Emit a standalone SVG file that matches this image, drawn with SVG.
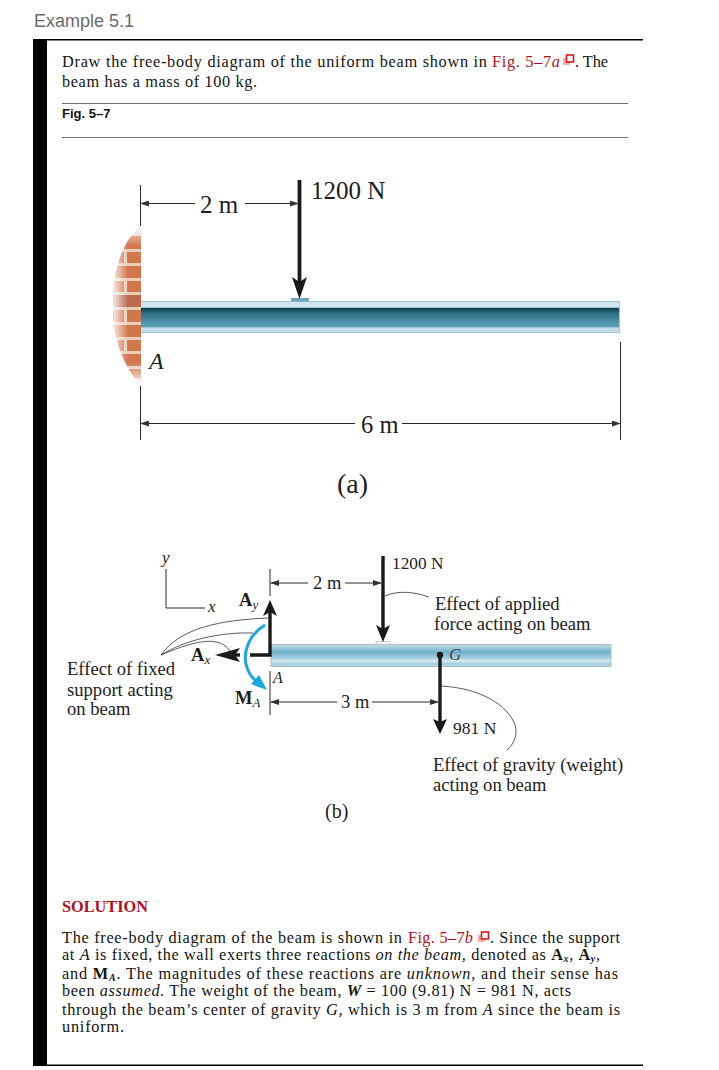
<svg xmlns="http://www.w3.org/2000/svg" width="719" height="1070" viewBox="0 0 719 1070">
<style>
text{font-family:"Liberation Serif","Times New Roman",serif;fill:#1d1d1d}
.b{font-size:16.3px;fill:#141414}
.r{fill:#b0101c}
.i{font-style:italic}
.l{stroke:#2b2b2b;stroke-width:1;fill:none}
.lead{stroke:#333;stroke-width:.8;fill:none}
.rule{stroke:#6e6e6e;stroke-width:1}
.f{stroke:#1a1a1a;stroke-width:3.4;fill:none}
.h{fill:#1a1a1a}
.t{font-size:18.6px}
</style>
<defs>
<linearGradient id="webA" x1="0" y1="0" x2="0" y2="1">
<stop offset="0" stop-color="#0f3c48"/><stop offset=".3" stop-color="#2f7286"/><stop offset=".7" stop-color="#4b90a8"/><stop offset="1" stop-color="#5f9fb8"/>
</linearGradient>
<linearGradient id="beamB" x1="0" y1="0" x2="0" y2="1">
<stop offset="0" stop-color="#c5dde8"/><stop offset=".12" stop-color="#a8d0e0"/><stop offset=".35" stop-color="#6fb0c8"/><stop offset=".62" stop-color="#a6d2e2"/><stop offset=".75" stop-color="#d6eaf2"/><stop offset=".88" stop-color="#a3cfe0"/><stop offset="1" stop-color="#bcd8e4"/>
</linearGradient>
<linearGradient id="fadeL" x1="0" y1="0" x2="1" y2="0">
<stop offset="0" stop-color="#fff"/><stop offset=".3" stop-color="#fff" stop-opacity=".8"/><stop offset="1" stop-color="#fff" stop-opacity="0"/>
</linearGradient>
<linearGradient id="fadeT" x1="0" y1="0" x2="0" y2="1">
<stop offset="0" stop-color="#fff"/><stop offset="1" stop-color="#fff" stop-opacity="0"/>
</linearGradient>
<linearGradient id="fadeB" x1="0" y1="1" x2="0" y2="0">
<stop offset="0" stop-color="#fff"/><stop offset="1" stop-color="#fff" stop-opacity="0"/>
</linearGradient>
<clipPath id="wc"><path d="M141 226C122 240 113 272 113 305C113 340 124 368 141 385Z"/></clipPath>
<filter id="bsoft" x="-5%" y="-5%" width="110%" height="110%"><feGaussianBlur stdDeviation=".5"/></filter>
<marker id="da" markerWidth="9" markerHeight="6" refX="8" refY="3" orient="auto"><path d="M0 0L9 3L0 6Z" fill="#333"/></marker>
<marker id="ds" markerWidth="9" markerHeight="6" refX="1" refY="3" orient="auto"><path d="M9 0L0 3L9 6Z" fill="#333"/></marker>
<g id="linkicon"><rect x="0" y="3" width="7" height="7" fill="#efb0a8"/><rect x="3.5" y="0" width="7" height="7" fill="#fff" stroke="#d81818" stroke-width="1.6"/></g>
</defs>
<rect width="719" height="1070" fill="#fff"/>

<g id="page">
<text x="34" y="27" style="font-family:'Liberation Sans',sans-serif;font-size:18px;fill:#6a6a6a" textLength="100">Example 5.1</text>
<rect x="33" y="39" width="14" height="1027" fill="#000"/>
<rect x="33" y="39" width="610" height="1.5" fill="#000"/>
<rect x="33" y="1064.500" width="610" height="1.500" fill="#000"/>
<line class="rule" x1="62" y1="103.500" x2="628" y2="103.500"/>
<line class="rule" x1="62" y1="137.500" x2="628" y2="137.500"/>
<text x="62" y="118" style="font-family:'Liberation Sans',sans-serif;font-size:13px;font-weight:700;fill:#111">Fig. 5–7</text>
</g>

<g id="intro">
<text class="b" x="62" y="66.500" textLength="425">Draw the free-body diagram of the uniform beam shown in</text>
<text class="b r" x="492" y="66.500" textLength="68">Fig. 5–7<tspan class="i">a</tspan></text>
<use href="#linkicon" x="563" y="55"/>
<text class="b" x="575" y="66.500" textLength="33">. The</text>
<text class="b" x="62" y="86.500" textLength="195">beam has a mass of 100 kg.</text>
</g>

<g id="figure-a">
<g id="wall" clip-path="url(#wc)">
<rect x="108" y="222" width="33" height="166" fill="#e6cdb8"/>
<g fill="#d2764c" filter="url(#bsoft)">
<rect x="108" y="236" width="33" height="13"/><rect x="127" y="252" width="14" height="11"/><rect x="108" y="252" width="16" height="11"/>
<rect x="108" y="266" width="33" height="12"/><rect x="127" y="281" width="14" height="11"/><rect x="108" y="281" width="16" height="11"/>
<rect x="108" y="295" width="33" height="12" fill="#bb6b50"/><rect x="127" y="310" width="14" height="12"/><rect x="108" y="310" width="16" height="12"/>
<rect x="108" y="325" width="33" height="12"/><rect x="127" y="340" width="14" height="11"/><rect x="108" y="340" width="16" height="11"/>
<rect x="108" y="354" width="33" height="12"/><rect x="127" y="369" width="14" height="9"/>
</g>
<rect x="108" y="222" width="20" height="166" fill="url(#fadeL)"/>
<rect x="108" y="222" width="33" height="24" fill="url(#fadeT)"/>
<rect x="108" y="362" width="33" height="26" fill="url(#fadeB)"/>
</g>
<g id="beam-a">
<rect x="141" y="301" width="479" height="32" fill="#9fc4d4"/>
<rect x="141" y="302" width="478" height="5" fill="#cfe6f1"/>
<rect x="141" y="308" width="478" height="19" fill="url(#webA)"/>
<rect x="141" y="328" width="478" height="4" fill="#c3dfec"/>
<rect x="291" y="298" width="18" height="3.500" fill="#6fa3b8"/>
</g>
<g id="force-a">
<line class="f" x1="299.500" y1="180" x2="299.500" y2="285" style="stroke-width:3.8"/>
<path class="h" d="M292 277L299.500 282L307 277L299.500 299Z"/>
<text x="311" y="199" font-size="25">1200 N</text>
</g>
<text class="i" x="149" y="369" font-size="24">A</text>
<g id="dims-a">
<line class="l" x1="140.500" y1="185" x2="140.500" y2="226"/>
<line class="l" x1="140.500" y1="386" x2="140.500" y2="440"/>
<line class="l" x1="620.500" y1="342" x2="620.500" y2="440"/>
<path class="l" d="M141 203.500H195" marker-start="url(#ds)"/>
<path class="l" d="M245 203.500H298" marker-end="url(#da)"/>
<path class="l" d="M141 423.500H355" marker-start="url(#ds)"/>
<path class="l" d="M402 423.500H620" marker-end="url(#da)"/>
<text x="200" y="213" font-size="25">2 m</text>
<text x="361" y="433" font-size="24.500">6 m</text>
</g>
<text x="337" y="493" font-size="28">(a)</text>
</g>

<g id="figure-b">
<g id="beam-b">
<rect x="271" y="644.500" width="340" height="22" fill="url(#beamB)" stroke="#a9bfca" stroke-width="1"/>
<rect x="376" y="641.500" width="14" height="3" fill="#eef3f5" stroke="#bbb" stroke-width=".7"/>
</g>
<g id="axes">
<path class="l" d="M166 569V608H205" stroke="#444"/>
<text class="i" x="162" y="563" font-size="17">y</text>
<text class="i" x="208" y="612" font-size="17">x</text>
</g>
<g id="force-1200">
<line class="f" x1="383" y1="556" x2="383" y2="630"/>
<path class="h" d="M376 625L383 629L390 625L383 642Z"/>
<text x="392" y="569" font-size="17.300">1200 N</text>
</g>
<g id="reaction-Ay">
<path class="f" d="M250 655H270V612"/>
<path class="h" d="M270 600L277 616L270 612L263 616Z"/>
<text x="239" y="606" font-size="18.500" font-weight="700">A<tspan class="i" font-size="13" font-weight="400" dy="3">y</tspan></text>
</g>
<g id="reaction-Ax">
<path class="f" d="M240 655H228"/>
<path class="h" d="M215 655L240 648L235 655L240 662Z"/>
<text x="191" y="661" font-size="18.500" font-weight="700">A<tspan class="i" font-size="13" font-weight="400" dy="3">x</tspan></text>
</g>
<g id="moment">
<path d="M265 625C250 634 243 650 246 664C248 673 252 678 257 682" fill="none" stroke="#1aa7e0" stroke-width="3"/>
<path d="M267 690L251 684L259 675Z" fill="#1aa7e0"/>
<text x="235" y="704" font-size="18.500" font-weight="700">M<tspan class="i" font-size="13" font-weight="400" dy="3">A</tspan></text>
</g>
<g id="gravity">
<circle cx="440" cy="655" r="3.200" fill="#1a1a1a"/>
<text class="i" x="449" y="660" font-size="17" style="fill:#444">G</text>
<line class="f" x1="440" y1="655" x2="440" y2="722"/>
<path class="h" d="M433 719L440 722L447 719L440 734Z"/>
<text x="453" y="734" font-size="17.500">981 N</text>
</g>
<g id="dims-b">
<line class="l" x1="270" y1="569" x2="270" y2="596"/>
<line class="l" x1="270" y1="671" x2="270" y2="715"/>
<path class="l" d="M271 583H308" marker-start="url(#ds)"/>
<path class="l" d="M345 583H381" marker-end="url(#da)"/>
<path class="l" d="M271 702H337" marker-start="url(#ds)"/>
<path class="l" d="M372 702H438" marker-end="url(#da)"/>
<text x="313" y="589" font-size="18.500">2 m</text>
<text x="341" y="708" font-size="18.500">3 m</text>
<text class="i" x="273" y="683" font-size="16">A</text>
</g>
<g id="leaders">
<path class="lead" d="M161 655C180 628 220 620 268 618"/>
<path class="lead" d="M161 655C185 640 220 632 253 633"/>
<path class="lead" d="M161 655C185 645 222 630 232 655"/>
<path class="lead" d="M385 596C398 590 415 592 429 597"/>
<path class="lead" d="M441 686C480 688 508 705 515 725C518 735 514 744 507 750"/>
</g>
<g id="notes">
<text class="t" x="67" y="675">Effect of fixed</text>
<text class="t" x="67" y="696">support acting</text>
<text class="t" x="67" y="715">on beam</text>
<text class="t" x="435" y="610">Effect of applied</text>
<text class="t" x="434" y="630">force acting on beam</text>
<text class="t" x="433" y="771">Effect of gravity (weight)</text>
<text class="t" x="433" y="791">acting on beam</text>
</g>
<text x="325" y="818" font-size="20">(b)</text>
</g>

<g id="solution">
<text class="b r" x="62" y="912" font-weight="700" textLength="86">SOLUTION</text>
<text class="b" x="62" y="943" textLength="340">The free-body diagram of the beam is shown in</text>
<text class="b r" x="408" y="943" textLength="65">Fig. 5–7<tspan class="i">b</tspan></text>
<use href="#linkicon" x="478" y="932"/>
<text class="b" x="490" y="943" textLength="130">. Since the support</text>
<text class="b" x="62" y="960" textLength="538">at <tspan class="i">A</tspan> is fixed, the wall exerts three reactions <tspan class="i">on the beam,</tspan> denoted as <tspan font-weight="700">A</tspan><tspan class="i" font-size="10" font-weight="700" dy="2">x</tspan><tspan dy="-2">, </tspan><tspan font-weight="700">A</tspan><tspan class="i" font-size="10" font-weight="700" dy="2">y</tspan><tspan dy="-2">,</tspan></text>
<text class="b" x="62" y="979" textLength="556">and <tspan font-weight="700">M</tspan><tspan class="i" font-size="10" font-weight="700" dy="2">A</tspan><tspan dy="-2">. The magnitudes of these reactions are </tspan><tspan class="i">unknown,</tspan> and their sense has</text>
<text class="b" x="62" y="996" textLength="509">been <tspan class="i">assumed.</tspan> The weight of the beam, <tspan class="i" font-weight="700">W</tspan> = 100 (9.81) N = 981 N, acts</text>
<text class="b" x="62" y="1015" textLength="558">through the beam’s center of gravity <tspan class="i">G,</tspan> which is 3 m from <tspan class="i">A</tspan> since the beam is</text>
<text class="b" x="62" y="1032" textLength="62">uniform.</text>
</g>
</svg>
